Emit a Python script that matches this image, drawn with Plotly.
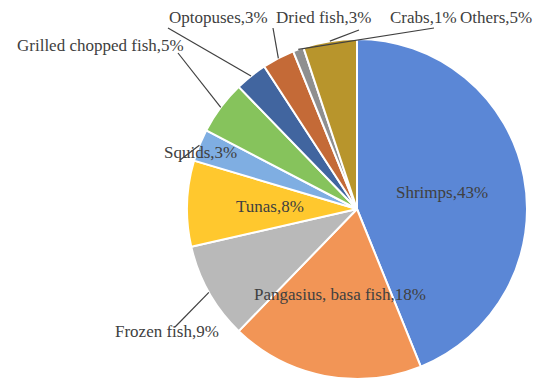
import math
import plotly.graph_objects as go

# Export structure of seafood products (share, %)
categories = ["Shrimps", "Pangasius, basa fish", "Frozen fish", "Tunas", "Squids",
              "Grilled chopped fish", "Optopuses", "Dried fish", "Crabs", "Others"]
shares = [43, 18, 9, 8, 3, 5, 3, 3, 1, 5]
colors = ["#5B87D6", "#F29556", "#B9B9B9", "#FFC82E", "#7FAEE2",
          "#86C35C", "#41659F", "#C46A37", "#8F8F8F", "#B8952C"]

W, H = 537, 383
CX, CY, R = 357, 209, 170  # pie centre and radius in pixels

fig = go.Figure(go.Pie(
    labels=categories,
    values=shares,
    sort=False,
    direction="clockwise",
    rotation=0,
    textinfo="none",
    hoverinfo="label+percent",
    marker=dict(colors=colors, line=dict(color="white", width=2)),
    domain=dict(x=[(CX - R) / W, (CX + R) / W],
                y=[(H - CY - R) / H, (H - CY + R) / H]),
    showlegend=False,
))


def px(x, y):
    return x / W, (H - y) / H


# label placement: inside labels sit halfway along the slice's mid-angle,
# outside labels get a text centre and the end of a leader line (pixels)
outside = {
    "Frozen fish": dict(text=(167, 331), line_end=(175, 327)),
    "Squids": dict(text=(200, 152), line_end=(180, 160)),
    "Grilled chopped fish": dict(text=(100, 45), line_end=(178, 53)),
    "Optopuses": dict(text=(218, 17), line_end=(168, 28)),
    "Dried fish": dict(text=(323, 17), line_end=(273, 28)),
    "Crabs": dict(text=(423, 17), line_end=(434, 28)),
    "Others": dict(text=(496, 17), line_end=(359, 30)),
}

total = sum(shares)
font = dict(family="Times New Roman", size=17, color="#404040")
cum = 0
for name, v in zip(categories, shares):
    mid = (cum + v / 2) / total * 2 * math.pi
    cum += v
    label = f"{name},{v}%"
    if name in outside:
        tx, ty = outside[name]["text"]
        ex, ey = outside[name]["line_end"]
        sx, sy = CX + R * math.sin(mid), CY - R * math.cos(mid)
        x0, y0 = px(sx, sy)
        x1, y1 = px(ex, ey)
        fig.add_shape(type="line", xref="paper", yref="paper",
                      x0=x0, y0=y0, x1=x1, y1=y1,
                      line=dict(color="#404040", width=1.2))
    else:
        tx, ty = CX + 0.51 * R * math.sin(mid), CY - 0.51 * R * math.cos(mid)
    ax, ay = px(tx, ty)
    fig.add_annotation(x=ax, y=ay, xref="paper", yref="paper", text=label,
                       showarrow=False, font=font, xanchor="center", yanchor="middle")

fig.update_layout(
    width=W, height=H,
    margin=dict(l=0, r=0, t=0, b=0),
    paper_bgcolor="white",
    plot_bgcolor="white",
    font=dict(family="Times New Roman"),
)

fig.write_html("out.html")
